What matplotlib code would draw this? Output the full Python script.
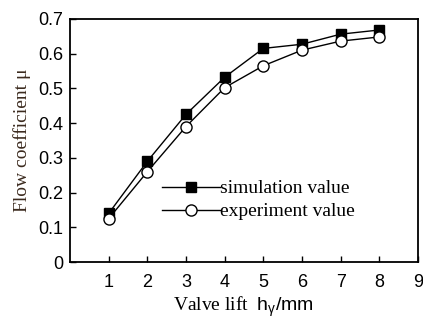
import matplotlib
matplotlib.use("Agg")
import matplotlib.pyplot as plt

plt.rcParams['mathtext.fontset'] = 'custom'
plt.rcParams['mathtext.rm'] = 'Liberation Serif'
plt.rcParams['mathtext.sf'] = 'Liberation Sans'
plt.rcParams['mathtext.it'] = 'Liberation Sans:italic'

lift = [1, 2, 3, 4, 5, 6, 7, 8]
simulation = [0.14, 0.29, 0.425, 0.532, 0.615, 0.627, 0.656, 0.668]
experiment = [0.125, 0.26, 0.39, 0.502, 0.565, 0.61, 0.636, 0.648]
xticks = [1, 2, 3, 4, 5, 6, 7, 8, 9]
yticks = [0, 0.1, 0.2, 0.3, 0.4, 0.5, 0.6, 0.7]
ytick_labels = ['0', '0.1', '0.2', '0.3', '0.4', '0.5', '0.6', '0.7']

fig = plt.figure(figsize=(4.23, 3.2), dpi=100)
ax = fig.add_axes([0.1655, 0.181, 0.8225, 0.760])

ax.plot(lift, simulation, '-', color='black', lw=1.0, marker='s', ms=7,
        mfc='black', mec='black', label='simulation value')
ax.plot(lift, experiment, '-', color='black', lw=1.0, marker='o', ms=8,
        mfc='white', mec='black', label='experiment value')

ax.set_xlim(0, 9)
ax.set_ylim(0, 0.7)
ax.set_xticks(xticks)
ax.set_yticks(yticks)
ax.set_yticklabels(ytick_labels)
ax.tick_params(direction='in', length=4, width=1, labelsize=13,
               top=False, right=False)
ax.tick_params(axis='x', pad=8.5)
ax.tick_params(axis='y', pad=5)
for lab in ax.get_xticklabels() + ax.get_yticklabels():
    lab.set_fontfamily('Liberation Sans')
for s in ax.spines.values():
    s.set_linewidth(1.3)

ax.set_ylabel('Flow coefficient μ', fontfamily='Liberation Serif',
              fontsize=14, color='#3b2a1e', labelpad=5)
ax.set_xlabel('Valve lift  $\\mathsf{h_{γ}/mm}$', fontfamily='Liberation Serif',
              fontsize=14, labelpad=3)

leg = ax.legend(loc='center left', bbox_to_anchor=(0.264, 0.255), frameon=False,
                prop={'family': 'Liberation Serif', 'size': 14},
                handlelength=3.0, handletextpad=0.0, labelspacing=0.28,
                borderaxespad=0, borderpad=0)

fig.savefig('out.png', dpi=100)
